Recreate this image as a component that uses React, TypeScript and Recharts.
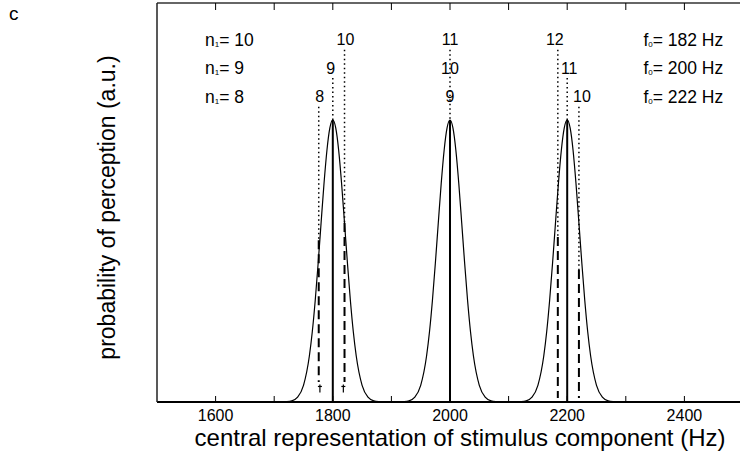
import { ComposedChart, Line, XAxis, YAxis, ReferenceLine, ReferenceDot } from 'recharts';

const FONT = '"Liberation Sans", Arial, Helvetica, sans-serif';

// x axis (Hz)
const tickHz = [1600, 1700, 1800, 1900, 2000, 2100, 2200, 2300, 2400];
const labelledTickHz = [1600, 1800, 2000, 2200, 2400];
const edgeHz = [1500, 2500];

// perception peaks, probability in a.u. (peak = 1)
const peak1800Hz = [1710, 1720, 1730, 1740, 1750, 1760, 1765, 1770, 1775, 1780, 1785, 1790, 1795, 1800, 1805, 1810, 1815, 1820, 1825, 1830, 1835, 1840, 1850, 1860, 1870, 1880, 1890];
const peak1800P = [0, 0.001, 0.004, 0.017, 0.059, 0.163, 0.249, 0.36, 0.492, 0.635, 0.775, 0.893, 0.972, 1, 0.972, 0.893, 0.775, 0.635, 0.492, 0.36, 0.249, 0.163, 0.059, 0.017, 0.004, 0.001, 0];
const peak2000Hz = [1910, 1920, 1930, 1940, 1950, 1960, 1965, 1970, 1975, 1980, 1985, 1990, 1995, 2000, 2005, 2010, 2015, 2020, 2025, 2030, 2035, 2040, 2050, 2060, 2070, 2080, 2090];
const peak2000P = [0, 0.001, 0.004, 0.017, 0.059, 0.163, 0.249, 0.36, 0.492, 0.635, 0.775, 0.893, 0.972, 1, 0.972, 0.893, 0.775, 0.635, 0.492, 0.36, 0.249, 0.163, 0.059, 0.017, 0.004, 0.001, 0];
const peak2200Hz = [2110, 2120, 2130, 2140, 2150, 2160, 2165, 2170, 2175, 2180, 2185, 2190, 2195, 2200, 2205, 2210, 2215, 2220, 2225, 2230, 2235, 2240, 2250, 2260, 2270, 2280, 2290];
const peak2200P = [0, 0.001, 0.004, 0.017, 0.059, 0.163, 0.249, 0.36, 0.492, 0.635, 0.775, 0.893, 0.972, 1, 0.972, 0.893, 0.775, 0.635, 0.492, 0.36, 0.249, 0.163, 0.059, 0.017, 0.004, 0.001, 0];

// solid lines at the peak centres
const peakHz = [1800, 2000, 2200];
const peakTop = [1, 1, 1];

// one row of labels per f0
const rowN1 = ['10', '9', '8'];
const rowF0 = ['182', '200', '222'];
const harmonicHz = [
  [1820, 2000, 2184],
  [1800, 2000, 2200],
  [1776, 2000, 2220],
];
const harmonicN = [
  ['10', '11', '12'],
  ['9', '10', '11'],
  ['8', '9', '10'],
];

// guide lines: dotted from the label row, then dashed towards the axis
const guideHz = [1776, 1800, 1820, 2000, 2184, 2200, 2220];
const guideRow = [2, 1, 0, 0, 0, 1, 2];
const guideDashFrom = [0.574, null, 0.635, null, 0.585, null, 0.468];
const guideDashTo = [0.071, null, 0.071, null, 0.014, null, 0.014];
const markerHz = [1778, 1818];

const curve = [
  { hz: edgeHz[0], p: 0 },
  ...peak1800Hz.map((hz, i) => ({ hz, p: peak1800P[i] })),
  ...peak2000Hz.map((hz, i) => ({ hz, p: peak2000P[i] })),
  ...peak2200Hz.map((hz, i) => ({ hz, p: peak2200P[i] })),
  { hz: edgeHz[1], p: 0 },
];

const Y_MAX = 1.415;
const rowLevel = [1.284, 1.184, 1.082];
const labelDx = [
  [1, 0, -3],
  [-2, 0, 2],
  [1, 0, 3],
];

function BottomTick({ x, y, payload }: any) {
  const showLabel = labelledTickHz.includes(payload.value);
  return (
    <g>
      <line x1={x} x2={x} y1={y} y2={y - 6} stroke="#000" strokeWidth={1} />
      {showLabel && (
        <text x={x} y={y + 19} textAnchor="middle" fontSize={16} fontFamily={FONT} fill="#000">
          {payload.value}
        </text>
      )}
    </g>
  );
}

function TopTick({ x, y }: any) {
  return <line x1={x} x2={x} y1={y} y2={y + 7} stroke="#000" strokeWidth={1} />;
}

function XTitle({ viewBox }: any) {
  const x = viewBox.x + viewBox.width / 2 + 10;
  const y = viewBox.y + 44;
  return (
    <text x={x} y={y} textAnchor="middle" fontSize={24} fontFamily={FONT} fill="#000">
      central representation of stimulus component (Hz)
    </text>
  );
}

function YTitle({ viewBox }: any) {
  const x = viewBox.x + viewBox.width - 42;
  const y = viewBox.y + viewBox.height / 2 + 5;
  return (
    <text x={x} y={y} transform={`rotate(-90, ${x}, ${y})`} textAnchor="middle" fontSize={23} fontFamily={FONT} fill="#000">
      probability of perception (a.u.)
    </text>
  );
}

const numberStyle = { fontSize: 16, fontFamily: FONT, fill: '#000' };
const rowStyle = { fontSize: 17.5, fontFamily: FONT, fill: '#000' };

export default function App() {
  return (
    <div style={{ position: 'absolute', left: 0, top: 0, width: 740, height: 463, overflow: 'hidden', background: '#fff' }}>
      <div style={{ position: 'absolute', left: 9, top: 3, fontSize: 19, fontFamily: FONT }}>c</div>
      <ComposedChart width={760} height={463} data={curve} margin={{ top: 0, right: 17, bottom: 0, left: 0 }}>
        <XAxis
          xAxisId="top"
          orientation="top"
          type="number"
          dataKey="hz"
          domain={[1500, 2500]}
          allowDataOverflow
          ticks={tickHz}
          interval={0}
          height={3}
          tickSize={0}
          tickMargin={0}
          tickLine={false}
          tick={TopTick}
          axisLine={{ stroke: '#333', strokeWidth: 1.5 }}
        />
        <XAxis
          type="number"
          dataKey="hz"
          domain={[1500, 2500]}
          allowDataOverflow
          ticks={tickHz}
          interval={0}
          height={61}
          tickSize={0}
          tickMargin={0}
          tickLine={false}
          tick={BottomTick}
          axisLine={{ stroke: '#000', strokeWidth: 2 }}
          label={<XTitle />}
        />
        <YAxis
          type="number"
          domain={[0, Y_MAX]}
          allowDataOverflow
          width={157}
          tick={false}
          tickLine={false}
          axisLine={{ stroke: '#222', strokeWidth: 1.5 }}
          label={<YTitle />}
        />

        {peakHz.map((hz, j) => (
          <ReferenceLine key={'c' + j} segment={[{ x: hz, y: 0 }, { x: hz, y: peakTop[j] }]} stroke="#000" strokeWidth={2} ifOverflow="visible" />
        ))}

        {guideHz.map((hz, k) => {
          const top = rowLevel[guideRow[k]] - 0.035;
          const dashFrom = guideDashFrom[k];
          const dashTo = guideDashTo[k];
          const dottedEnd = dashFrom === null ? 1 : dashFrom;
          return [
            <ReferenceLine key={'d' + k} segment={[{ x: hz, y: top }, { x: hz, y: dottedEnd }]} stroke="#000" strokeWidth={1.5} strokeDasharray="1.5 3" ifOverflow="visible" />,
            dashFrom !== null && dashTo !== null ? (
              <ReferenceLine key={'s' + k} segment={[{ x: hz, y: dashFrom }, { x: hz, y: dashTo }]} stroke="#000" strokeWidth={2} strokeDasharray="9 5" ifOverflow="visible" />
            ) : null,
          ];
        })}

        {markerHz.map((hz, k) => (
          <ReferenceDot
            key={'m' + k}
            x={hz}
            y={0.048}
            ifOverflow="visible"
            shape={(p: any) => (
              <g stroke="#000" strokeWidth={1.2}>
                <line x1={p.cx} x2={p.cx} y1={p.cy - 4} y2={p.cy + 4} />
                <line x1={p.cx - 2} x2={p.cx + 2} y1={p.cy - 2} y2={p.cy - 2} />
              </g>
            )}
          />
        ))}

        <Line type="monotone" dataKey="p" stroke="#000" strokeWidth={1.2} dot={false} activeDot={false} isAnimationActive={false} />

        {harmonicHz.map((row, i) =>
          row.map((hz, j) => (
            <ReferenceDot
              key={'h' + i + '-' + j}
              x={hz}
              y={rowLevel[i]}
              ifOverflow="visible"
              shape={(p: any) => (
                <text x={p.cx + labelDx[i][j]} y={p.cy} textAnchor="middle" dominantBaseline="central" {...numberStyle}>
                  {harmonicN[i][j]}
                </text>
              )}
            />
          ))
        )}

        {rowN1.map((n, i) => (
          <ReferenceDot
            key={'n' + i}
            x={1582}
            y={rowLevel[i]}
            ifOverflow="visible"
            shape={(p: any) => (
              <text x={p.cx} y={p.cy} dominantBaseline="central" {...rowStyle}>
                n<tspan fontSize={8} dy={4}>1</tspan>
                <tspan dy={-4}>= {n}</tspan>
              </text>
            )}
          />
        ))}

        {rowF0.map((f, i) => (
          <ReferenceDot
            key={'f' + i}
            x={2330}
            y={rowLevel[i]}
            ifOverflow="visible"
            shape={(p: any) => (
              <text x={p.cx} y={p.cy} dominantBaseline="central" {...rowStyle}>
                f<tspan fontSize={8} dy={4}>0</tspan>
                <tspan dy={-4}>= {f} Hz</tspan>
              </text>
            )}
          />
        ))}
      </ComposedChart>
    </div>
  );
}
